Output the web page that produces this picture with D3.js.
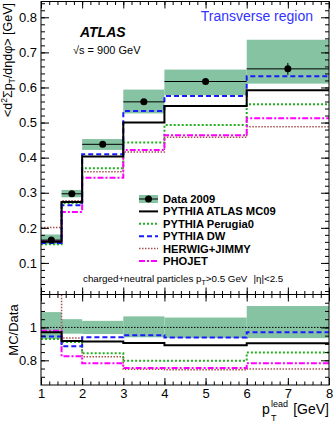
<!DOCTYPE html>
<html>
<head>
<meta charset="utf-8">
<script src="https://cdn.jsdelivr.net/npm/d3@7"></script>
<style>
body { margin:0; background:#fff; }
text { font-family: "Liberation Sans", Arial, sans-serif; }
</style>
</head>
<body>
<div id="chart-area"></div>
<script>
// bins in pT lead [GeV]
var binEdges = [1, 1.5, 2, 3, 4, 6, 8];

// main panel: data 2009 with systematic band
var dataVal = [0.165, 0.297, 0.438, 0.559, 0.617, 0.653];
var dataErr = [0.002, 0.003, 0.003, 0.004, 0.004, 0.017];
var bandLo  = [0.153, 0.287, 0.422, 0.526, 0.578, 0.611];
var bandHi  = [0.181, 0.308, 0.453, 0.594, 0.651, 0.736];

var mc09     = [0.160, 0.2735, 0.403, 0.500, 0.547, 0.592];
var perugia0 = [0.153, 0.271, 0.370, 0.443, 0.493, 0.552];
var dw       = [0.157, 0.264, 0.410, 0.533, 0.576, 0.632];
var herwig   = [0.201, 0.277, 0.360, 0.416, 0.458, 0.488];
var phojet   = [0.162, 0.245, 0.343, 0.422, 0.464, 0.512];

// ratio panel MC/Data
var ratioBandLo = [0.93, 0.962, 0.96, 0.94, 0.935, 0.935];
var ratioBandHi = [1.093, 1.05, 1.04, 1.067, 1.06, 1.13];
var rMc09     = [0.97, 0.918, 0.915, 0.906, 0.892, 0.904];
var rPerugia0 = [0.93, 0.912, 0.843, 0.797, 0.798, 0.847];
var rDw       = [0.945, 0.886, 0.94, 0.953, 0.938, 0.97];
var rHerwig   = [1.22, 0.935, 0.822, 0.745, 0.742, 0.747];
var rPhojet   = [0.98, 0.825, 0.782, 0.753, 0.753, 0.782];

var legendLabels = ["Data 2009", "PYTHIA ATLAS MC09", "PYTHIA Perugia0", "PYTHIA DW", "HERWIG+JIMMY", "PHOJET"];
var mainTicks = [0.1, 0.2, 0.3, 0.4, 0.5, 0.6, 0.7, 0.8];
var ratioTicks = [0.8, 1];
var xTicks = [1, 2, 3, 4, 5, 6, 7, 8];

var styles = [
	{color:"#000000", width:2, dash:null},
	{color:"#22b022", width:2, dash:"2,2"},
	{color:"#1a1aff", width:2, dash:"5,3"},
	{color:"#a85050", width:1.5, dash:"1.5,1.5"},
	{color:"#ff00ff", width:2, dash:"6,2,2,2"}
];

var fLeft = 41, fRight = 329, fTop = 1.5, fMid = 294.5, fBottom = 385;

var svg = d3.select("#chart-area")
	.append("svg")
		.attr("width", 333)
		.attr("height", 424);

var x = d3.scaleLinear().domain([1, 8]).range([fLeft, fRight]);
var y = d3.scaleLinear().domain([0.01, 0.845]).range([fMid, fTop]);
var yr = d3.scaleLinear().domain([0.65, 1.2]).range([fBottom, fMid]);

svg.append("clipPath").attr("id","clipMain")
	.append("rect").attr("x",fLeft).attr("y",fTop).attr("width",fRight-fLeft).attr("height",fMid-fTop);
svg.append("clipPath").attr("id","clipRatio")
	.append("rect").attr("x",fLeft).attr("y",fMid).attr("width",fRight-fLeft).attr("height",fBottom-fMid);

function stepPoints(vals){
	var pts = [];
	for (var i = 0; i < vals.length; i++) {
		pts.push([binEdges[i], vals[i]]);
		pts.push([binEdges[i+1], vals[i]]);
	}
	return pts;
}

function drawPanel(g, ys, lo, hi, series){
	// band
	g.selectAll("rect.band")
		.data(lo)
		.enter()
		.append("rect")
			.attr("class","band")
			.attr("x", function(d,i){ return x(binEdges[i]); })
			.attr("width", function(d,i){ return x(binEdges[i+1]) - x(binEdges[i]); })
			.attr("y", function(d,i){ return ys(hi[i]); })
			.attr("height", function(d,i){ return ys(lo[i]) - ys(hi[i]); })
			.attr("fill","#86c3a3");

	var line = d3.line()
		.x(function(d){ return x(d[0]); })
		.y(function(d){ return ys(d[1]); });

	// draw black last so it sits on top
	var order = [3, 1, 4, 2, 0];
	order.forEach(function(k){
		g.append("path")
			.attr("d", line(stepPoints(series[k])))
			.attr("fill","none")
			.attr("stroke", styles[k].color)
			.attr("stroke-width", styles[k].width)
			.attr("stroke-dasharray", styles[k].dash);
	});
}

var gMain = svg.append("g").attr("clip-path","url(#clipMain)");
drawPanel(gMain, y, bandLo, bandHi, [mc09, perugia0, dw, herwig, phojet]);

// data points
dataVal.forEach(function(v, i){
	var cx = x((binEdges[i] + binEdges[i+1]) / 2);
	gMain.append("line")
		.attr("x1", x(binEdges[i])).attr("x2", x(binEdges[i+1]))
		.attr("y1", y(v)).attr("y2", y(v))
		.attr("stroke","#000").attr("stroke-width",1);
	gMain.append("line")
		.attr("x1", cx).attr("x2", cx)
		.attr("y1", y(v - dataErr[i])).attr("y2", y(v + dataErr[i]))
		.attr("stroke","#000").attr("stroke-width",1);
	gMain.append("circle")
		.attr("cx", cx).attr("cy", y(v)).attr("r", 3.5)
		.attr("fill","#000");
});

var gRatio = svg.append("g").attr("clip-path","url(#clipRatio)");
drawPanel(gRatio, yr, ratioBandLo, ratioBandHi, [rMc09, rPerugia0, rDw, rHerwig, rPhojet]);
gRatio.append("line")
	.attr("x1", fLeft).attr("x2", fRight)
	.attr("y1", yr(1)).attr("y2", yr(1))
	.attr("stroke","#000").attr("stroke-width",1)
	.attr("stroke-dasharray","1.5,1.5");

// axes (ticks inside the frame, ROOT style)
var xMinor = d3.range(1, 8.001, 0.2);
function addAxis(axis, tx, ty){
	var a = svg.append("g")
		.attr("transform","translate("+tx+","+ty+")")
		.call(axis);
	a.select(".domain").remove();
	a.selectAll("text").attr("font-size","13px").attr("font-family","Liberation Sans, Arial, sans-serif");
	return a;
}

// main y
addAxis(d3.axisLeft(y).tickValues(mainTicks).tickSize(-8).tickPadding(4).tickFormat(d3.format(".1f")), fLeft, 0);
addAxis(d3.axisLeft(y).tickValues(d3.range(0.02, 0.845, 0.02)).tickSize(-4).tickFormat(""), fLeft, 0);
addAxis(d3.axisRight(y).tickValues(mainTicks).tickSize(-8).tickFormat(""), fRight, 0);
addAxis(d3.axisRight(y).tickValues(d3.range(0.02, 0.845, 0.02)).tickSize(-4).tickFormat(""), fRight, 0);
// ratio y
addAxis(d3.axisLeft(yr).tickValues(ratioTicks).tickSize(-8).tickPadding(4).tickFormat(function(d){ return d == 1 ? "1" : d3.format(".1f")(d); }), fLeft, 0);
addAxis(d3.axisLeft(yr).tickValues(d3.range(0.7, 1.2, 0.05)).tickSize(-4).tickFormat(""), fLeft, 0);
addAxis(d3.axisRight(yr).tickValues(ratioTicks).tickSize(-8).tickFormat(""), fRight, 0);
addAxis(d3.axisRight(yr).tickValues(d3.range(0.7, 1.2, 0.05)).tickSize(-4).tickFormat(""), fRight, 0);
// x at top of main, bottom of main, top of ratio, bottom of ratio
[[fTop, "top"], [fMid, "bottom"], [fMid, "top"], [fBottom, "bottom"]].forEach(function(p, k){
	var mk = p[1] == "top" ? d3.axisTop : d3.axisBottom;
	var labels = (k == 3);
	addAxis(mk(x).tickValues(xTicks).tickSize(-7).tickPadding(4).tickFormat(labels ? d3.format("d") : ""), 0, p[0]);
	addAxis(mk(x).tickValues(xMinor).tickSize(-3.5).tickFormat(""), 0, p[0]);
});

// frames
svg.append("rect").attr("x",fLeft).attr("y",fTop).attr("width",fRight-fLeft).attr("height",fMid-fTop)
	.attr("fill","none").attr("stroke","#000").attr("stroke-width",1);
svg.append("rect").attr("x",fLeft).attr("y",fMid).attr("width",fRight-fLeft).attr("height",fBottom-fMid)
	.attr("fill","none").attr("stroke","#000").attr("stroke-width",1);

// legend
var legX = 139, legW = 19, legY0 = 199, legDy = 12.4;
legendLabels.forEach(function(lab, i){
	var ly = legY0 + i * legDy;
	if (i == 0) {
		svg.append("rect").attr("x",legX).attr("y",ly-4).attr("width",legW).attr("height",8).attr("fill","#86c3a3");
		svg.append("line").attr("x1",legX).attr("x2",legX+legW).attr("y1",ly).attr("y2",ly).attr("stroke","#000");
		svg.append("circle").attr("cx",legX+legW/2).attr("cy",ly).attr("r",3.5).attr("fill","#000");
	} else {
		var s = styles[i-1];
		svg.append("line").attr("x1",legX).attr("x2",legX+legW).attr("y1",ly).attr("y2",ly)
			.attr("stroke",s.color).attr("stroke-width",s.width).attr("stroke-dasharray",s.dash);
	}
	svg.append("text")
		.attr("x", 163).attr("y", ly + 4)
		.attr("font-size","11.2px").attr("font-weight","bold")
		.text(lab);
});

// labels
svg.append("text").attr("x",80).attr("y",37)
	.attr("font-size","14px").attr("font-weight","bold").attr("font-style","italic")
	.text("ATLAS");
svg.append("text").attr("x",73).attr("y",54)
	.attr("font-size","11px")
	.text("\u221As = 900 GeV");
svg.append("text").attr("x",313).attr("y",21)
	.attr("font-size","14px").attr("fill","#3333ff").attr("text-anchor","end")
	.text("Transverse region");

var cut = svg.append("text").attr("x",83).attr("y",282).attr("font-size","9.8px");
cut.append("tspan").text("charged+neutral particles p");
cut.append("tspan").attr("font-size","7px").attr("dy",2.5).text("T");
cut.append("tspan").attr("dy",-2.5).text(">0.5 GeV");
cut.append("tspan").attr("dx",6).text("|\u03b7|<2.5");

var yt = svg.append("text")
	.attr("transform","translate(12,3) rotate(-90)")
	.attr("text-anchor","end")
	.attr("font-size","12.5px");
yt.append("tspan").text("<d");
yt.append("tspan").attr("font-size","8.5px").attr("dy",-5).text("2");
yt.append("tspan").attr("dy",5).text("\u03a3p");
yt.append("tspan").attr("font-size","8.5px").attr("dy",3).text("T");
yt.append("tspan").attr("dy",-3).text("/d\u03b7d\u03c6> [GeV]");

svg.append("text")
	.attr("transform","translate(18,330) rotate(-90)")
	.attr("text-anchor","middle")
	.attr("font-size","13px")
	.text("MC/Data");

svg.append("text").attr("x",262).attr("y",414).attr("font-size","14px").text("p");
svg.append("text").attr("x",271).attr("y",407).attr("font-size","9px").text("lead");
svg.append("text").attr("x",271).attr("y",421).attr("font-size","9px").text("T");
svg.append("text").attr("x",329).attr("y",414).attr("font-size","14px").attr("text-anchor","end").text("[GeV]");
</script>
</body>
</html>
